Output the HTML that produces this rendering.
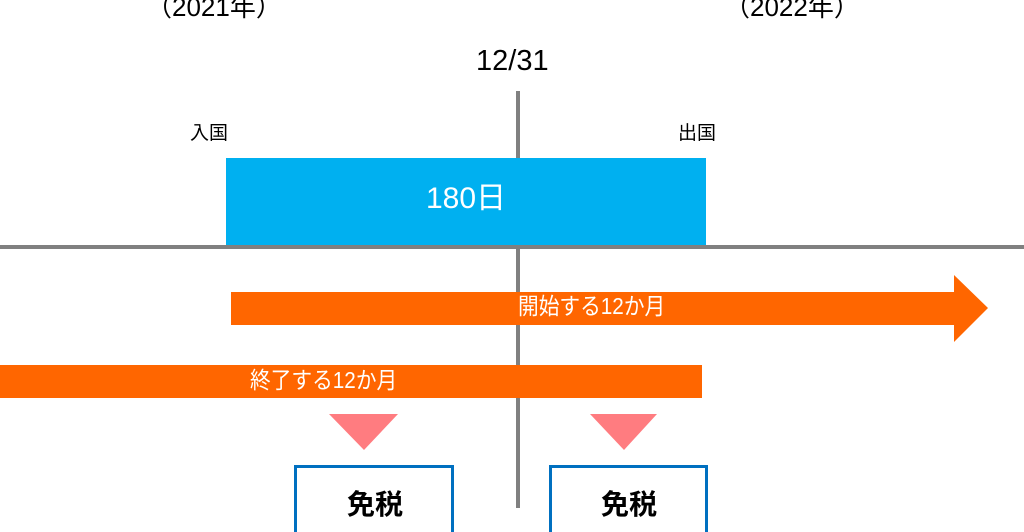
<!DOCTYPE html>
<html><head><meta charset="utf-8"><style>
html,body{margin:0;padding:0;background:#fff}
body{width:1024px;height:532px;position:relative;overflow:hidden;font-family:"Liberation Sans","Noto Sans CJK JP",sans-serif}
.a{position:absolute}
.t{position:absolute;white-space:nowrap;color:#000;line-height:1}
.s{transform:scaleX(0.9);transform-origin:left top}
</style></head><body>
<div class="a" style="left:516px;top:91px;width:4px;height:417px;background:#808080"></div>
<div class="a" style="left:226px;top:158px;width:480px;height:88px;background:#00b0f0"></div>
<div class="a" style="left:0;top:245px;width:1024px;height:4px;background:#808080"></div>
<svg class="a" style="left:0;top:0" width="1024" height="532">
<polygon points="231,292 954,292 954,275 988,308 954,342 954,325 231,325" fill="#ff6600"/>
<rect x="0" y="365" width="702" height="33" fill="#ff6600"/>
<polygon points="329,414 398,414 364,450" fill="#ff7c80"/>
<polygon points="590,414 657,414 624,450" fill="#ff7c80"/>
<rect x="295.5" y="466.5" width="157" height="80" fill="#fff" stroke="#0070c0" stroke-width="3"/>
<rect x="550.5" y="466.5" width="156" height="80" fill="#fff" stroke="#0070c0" stroke-width="3"/>
</svg>
<div class="t" style="left:146px;top:-6px;font-size:26px">（2021年）</div>
<div class="t" style="left:724px;top:-6px;font-size:26px">（2022年）</div>
<div class="t" style="left:476px;top:47px;font-size:29px">12/31</div>
<div class="t" style="left:190px;top:124px;font-size:19px">入国</div>
<div class="t" style="left:678px;top:124px;font-size:19px">出国</div>
<div class="t" style="left:226px;top:184px;width:480px;text-align:center;color:#fff;font-size:30px">180日</div>
<div class="t s" style="left:518px;top:295px;color:#fff;font-size:23px">開始する12か月</div>
<div class="t s" style="left:250px;top:369px;color:#fff;font-size:23px">終了する12か月</div>
<div class="t" style="left:295px;top:491px;width:160px;text-align:center;font-size:28px;font-weight:bold">免税</div>
<div class="t" style="left:550px;top:491px;width:158px;text-align:center;font-size:28px;font-weight:bold">免税</div>
</body></html>
